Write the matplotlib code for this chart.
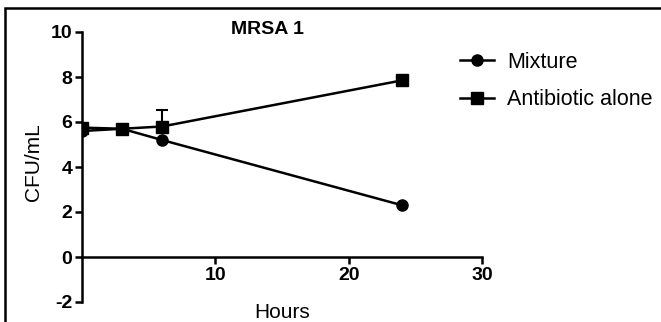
import matplotlib.pyplot as plt
from matplotlib.patches import Rectangle

plt.rcParams['font.family'] = ['Liberation Sans', 'DejaVu Sans']
plt.rcParams['axes.unicode_minus'] = False

hours = [0, 3, 6, 24]
mixture = [5.6, 5.7, 5.2, 2.3]
antibiotic = [5.75, 5.7, 5.8, 7.85]
antibiotic_err_up = [0, 0, 0.75, 0]
antibiotic_err_down = [0, 0, 0, 0]

fig = plt.figure(figsize=(6.61, 3.22), dpi=100)
ax = fig.add_axes([82 / 661, 20 / 322, 400 / 661, 270 / 322])

ax.plot(hours, mixture, color='black', lw=1.8, marker='o', ms=8,
        label='Mixture', zorder=3)
ax.errorbar(hours, antibiotic, yerr=[antibiotic_err_down, antibiotic_err_up],
            color='black', lw=1.8, marker='s', ms=8, capsize=4,
            elinewidth=1.5, capthick=1.5, zorder=3)
ax.plot([], [], color='black', lw=1.8, marker='s', ms=8, label='Antibiotic alone')

ax.set_xlim(0, 30)
ax.set_ylim(-2, 10)
ax.set_xticks([10, 20, 30])
ax.set_yticks([-2, 0, 2, 4, 6, 8, 10])
ax.spines['top'].set_visible(False)
ax.spines['right'].set_visible(False)
ax.spines['bottom'].set_position(('data', 0))
for s in ['left', 'bottom']:
    ax.spines[s].set_linewidth(1.8)
ax.tick_params(width=1.8, length=5, labelsize=14, pad=2)
for lab in ax.get_xticklabels() + ax.get_yticklabels():
    lab.set_fontweight('bold')

fig.text(34 / 661, 1 - 162 / 322, 'CFU/mL', rotation=90, fontsize=15,
         ha='center', va='center')
fig.text(282 / 661, 1 - 312 / 322, 'Hours', fontsize=15, ha='center', va='center')
fig.text(267 / 661, 1 - 29 / 322, 'MRSA 1', fontsize=14, fontweight='bold',
         ha='center', va='center')

ax.legend(loc='upper left', bbox_to_anchor=(460 / 661, 1 - 52 / 322),
          bbox_transform=fig.transFigure, frameon=False, fontsize=15.5,
          handlelength=1.6, handletextpad=0.6, labelspacing=0.75,
          borderaxespad=0, borderpad=0)

# frame around the figure (top and left edges visible)
fig.patches.append(Rectangle((5 / 661, -0.1), 1.2, 1 - 8 / 322 + 0.1,
                             transform=fig.transFigure, fill=False,
                             lw=1.8, ec='black'))

fig.savefig('out.png', dpi=100)
